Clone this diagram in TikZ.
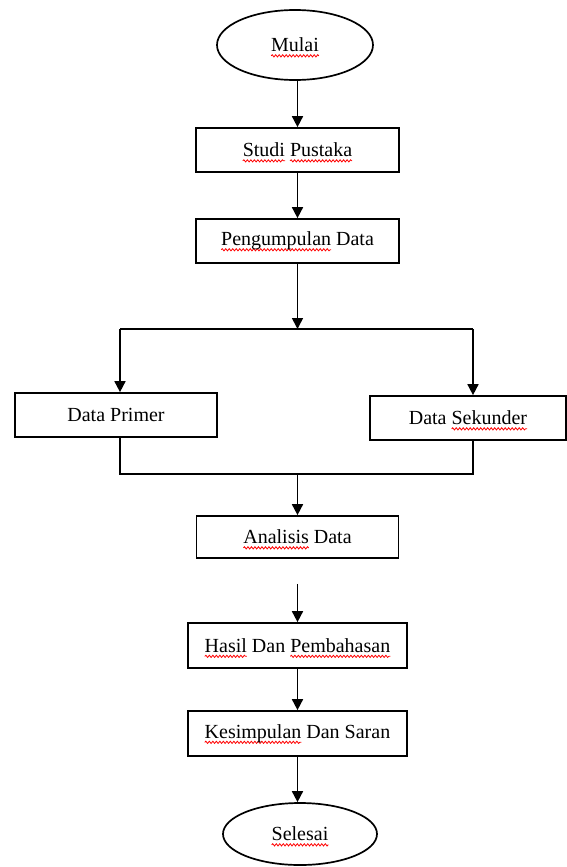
\documentclass[tikz,border=0pt]{standalone}
\usepackage{fontspec}
\setmainfont{Liberation Serif}
\usetikzlibrary{arrows.meta,shapes.geometric,decorations.pathmorphing}
\newlength\sqw
\newcommand\sq[1]{\settowidth\sqw{#1}\tikz[overlay,baseline=0pt]\draw[red,line width=0.8pt,decorate,decoration={snake,amplitude=1.1pt,segment length=3.5pt}] (0pt,-4pt) -- (\sqw,-4pt);#1}
\begin{document}
\begin{tikzpicture}[x=1pt,y=-1pt,
  stepbox/.style={draw, line width=1.7pt, minimum height=44pt, inner sep=0pt, font=\fontsize{20}{24}\selectfont},
  term/.style={ellipse, draw, line width=1.7pt, inner sep=0pt, font=\fontsize{20}{24}\selectfont},
  arr/.style={-{Triangle[length=11pt,width=11pt]}, line width=1.7pt},
  conn/.style={line width=1.7pt}]
\useasboundingbox (0,0) rectangle (567,867);
\node[term, minimum width=156pt, minimum height=70pt] (mulai) at (295,45) {\sq{Mulai}};
\node[stepbox, minimum width=203pt] (studi) at (297.5,150) {\sq{Studi} \sq{Pustaka}};
\node[stepbox, minimum width=203pt] (kumpul) at (297.5,241) {\sq{Pengumpulan} Data};
\node[stepbox, minimum width=202pt] (primer) at (116,415) {Data Primer};
\node[stepbox, minimum width=196pt] (sekunder) at (468,418) {Data \sq{Sekunder}};
\node[stepbox, minimum width=202pt, minimum height=42pt] (analisis) at (297.5,537) {\sq{Analisis} Data};
\node[stepbox, minimum width=219pt, minimum height=45pt] (hasil) at (297.5,645.5) {\sq{Hasil} Dan \sq{Pembahasan}};
\node[stepbox, minimum width=219pt, minimum height=45pt] (kes) at (297.5,733.5) {\sq{Kesimpulan} Dan Saran};
\node[term, minimum width=154pt, minimum height=62pt] (selesai) at (300,834) {\sq{Selesai}};
\coordinate (split) at (297.5,329);
\coordinate (sl) at (120,329);
\coordinate (sr) at (473,329);
\coordinate (ml) at (120,474);
\coordinate (mr) at (473,474);
\coordinate (merge) at (297.5,474);
\draw[arr] (studi.north |- mulai.south) -- (studi.north);
\draw[arr] (studi) -- (kumpul);
\draw[arr] (kumpul) -- (split);
\draw[conn] (sl) -- (sr);
\draw[arr] (sl) -- (sl |- primer.north);
\draw[arr] (sr) -- (sr |- sekunder.north);
\draw[conn] (ml |- primer.south) -- (ml) -- (mr) -- (mr |- sekunder.south);
\draw[arr] (merge) -- (analisis);
\draw[arr, shorten <=25pt] (analisis) -- (hasil);
\draw[arr] (hasil) -- (kes);
\draw[arr] (kes.south) -- (kes.south |- selesai.north);
\end{tikzpicture}
\end{document}
